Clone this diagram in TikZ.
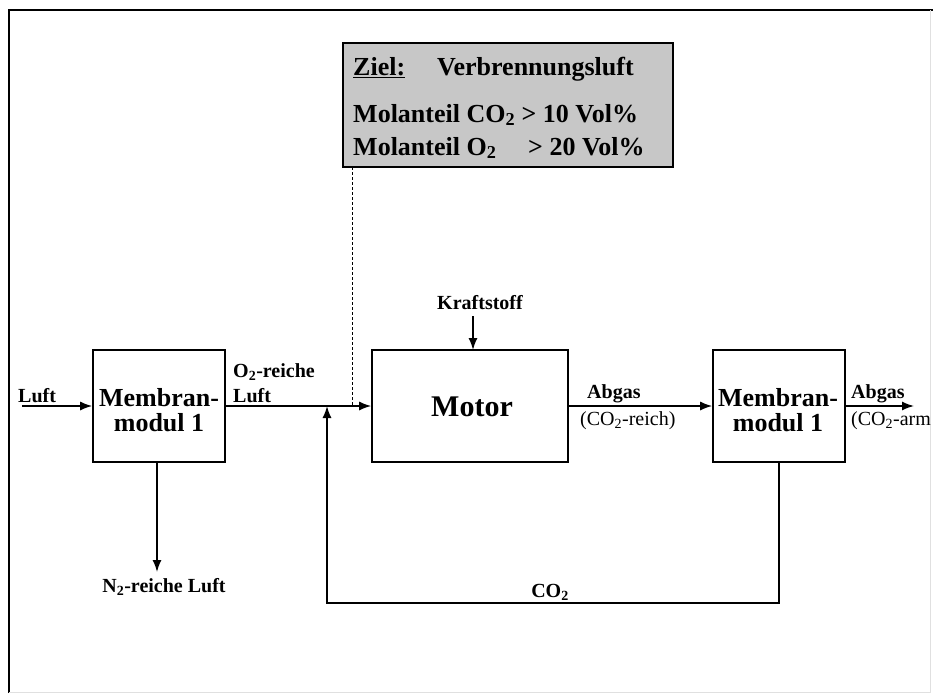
\documentclass[tikz,border=0pt]{standalone}
\usepackage{fontspec}
\setmainfont{Liberation Serif}
\usetikzlibrary{arrows.meta}
\begin{document}
\begin{tikzpicture}[x=1pt,y=-1pt,
  blk/.style={draw, line width=1.6pt, inner sep=0pt, minimum height=112pt},
  arr/.style={-{Latex[length=12pt,width=9pt]}, line width=1.5pt},
  lbl/.style={font=\fontsize{20}{22}\selectfont\bfseries, inner sep=0pt},
  rlbl/.style={font=\fontsize{20}{22}\selectfont, inner sep=0pt},
  big/.style={font=\fontsize{26}{25}\selectfont\bfseries, inner sep=0pt, align=center},
  goal/.style={font=\fontsize{26}{30}\selectfont\bfseries, inner sep=0pt, anchor=base west}]
\useasboundingbox (0,0) rectangle (933,693);
% frame
\draw[line width=1.8pt] (9,693) -- (9,10) -- (933,10);
\draw[line width=0.8pt, black!12] (9,692) -- (930,692) -- (930,10);

% goal box
\node[draw, line width=1.6pt, fill=black!22, minimum width=330pt, minimum height=124pt, inner sep=0pt] (goal) at (508,105) {};
\node[goal] (z1) at (353,75) {\underline{Ziel:}};
\node[goal] (z2) at (437,75) {Verbrennungsluft};
\node[goal] (z3) at (353,122) {Molanteil CO\textsubscript{2} > 10 Vol\%};
\node[goal] (z4) at (353,155) {Molanteil O\textsubscript{2}};
\node[goal] (z5) at (528,155) {> 20 Vol\%};

% blocks
\node[blk, minimum width=132pt] (m1) at (159,406) {};
\node[big] (m1t) at (159,410) {Membran-\\modul 1};
\node[blk, minimum width=196pt] (mot) at (470,406) {};
\node[font=\fontsize{30}{30}\selectfont\bfseries, inner sep=0pt, anchor=base] (mott) at (472,416) {Motor};
\node[blk, minimum width=132pt] (m2) at (779,406) {};
\node[big] (m2t) at (778,410) {Membran-\\modul 1};

% coordinates
\coordinate (in) at (22,406);
\coordinate (out) at (914,406);
\coordinate (j) at (327,406);
\coordinate (fbc) at (327,603);
\coordinate (dtop) at (352,167);
\coordinate (dbot) at (352,406);
\coordinate (n2end) at (157,572);
\coordinate (krs) at (473,316);
\coordinate (kre) at (473,350);

% connectors
\draw[arr] (in) -- (m1.west);
\draw[arr] (m1.east) -- (mot.west);
\draw[arr] (mot.east) -- (m2.west);
\draw[arr] (m2.east) -- (out);
\draw[arr] (m2.south) |- (fbc) -- (j);
\draw[arr] (m1.south -| n2end) -- (n2end);
\draw[arr] (krs) -- (kre);
\draw[line width=1pt, dash pattern=on 3pt off 2pt] (dtop) -- (dbot);

% labels
\node[lbl, anchor=base west] (luft) at (18,402) {Luft};
\node[lbl, anchor=base west] (o2a) at (233,377) {O\textsubscript{2}-reiche};
\node[lbl, anchor=base west] (o2b) at (233,402) {Luft};
\node[lbl, anchor=base] (kr) at (480,309) {Kraftstoff};
\node[lbl, anchor=base west] (ab1) at (587,398) {Abgas};
\node[rlbl, anchor=base west] (ab2) at (580,425) {(CO\textsubscript{2}-reich)};
\node[lbl, anchor=base west] (ab3) at (851,398) {Abgas};
\node[rlbl, anchor=base west] (ab4) at (851,425) {(CO\textsubscript{2}-arm};
\node[lbl, anchor=base] (co2) at (550,597) {CO\textsubscript{2}};
\node[lbl, anchor=base] (n2) at (164,592) {N\textsubscript{2}-reiche Luft};
\end{tikzpicture}
\end{document}
